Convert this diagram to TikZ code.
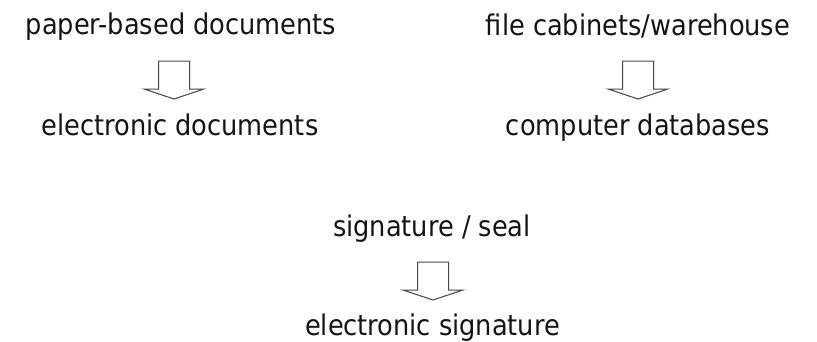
\documentclass[tikz,border=0pt]{standalone}
\usepackage{fontspec}
\setmainfont{DejaVu Sans Condensed}
\begin{document}
\begin{tikzpicture}[x=1pt,y=-1pt,
  lbl/.style={anchor=base,inner sep=0pt,text=black!92,font=\fontsize{28.5}{32}\selectfont},
  blockarrow/.style={draw=black!72,line width=1pt,line join=miter,fill=white},
  pics/downarrow/.style={code={
    \draw[blockarrow] (-15.5,0) -- (15.5,0) -- (15.5,28) -- (30,28) -- (0,38) -- (-30,28) -- (-15.5,28) -- cycle;
  }}]
\useasboundingbox (0,0) rectangle (817,341);
\node[lbl] (paper) at (181,34.5) {paper-based documents};
\node[lbl] (edocs) at (180,135) {electronic documents};
\node[lbl] (cab) at (638,35) {file cabinets/warehouse};
\node[lbl] (db) at (638,135) {computer databases};
\node[lbl] (sig) at (432,236) {signature / seal};
\node[lbl] (esig) at (432.5,335) {electronic signature};
\coordinate (a1) at (174,61);
\coordinate (a2) at (638,61);
\coordinate (a3) at (433,262);
\pic at (a1) {downarrow};
\pic at (a2) {downarrow};
\pic at (a3) {downarrow};
\end{tikzpicture}
\end{document}
